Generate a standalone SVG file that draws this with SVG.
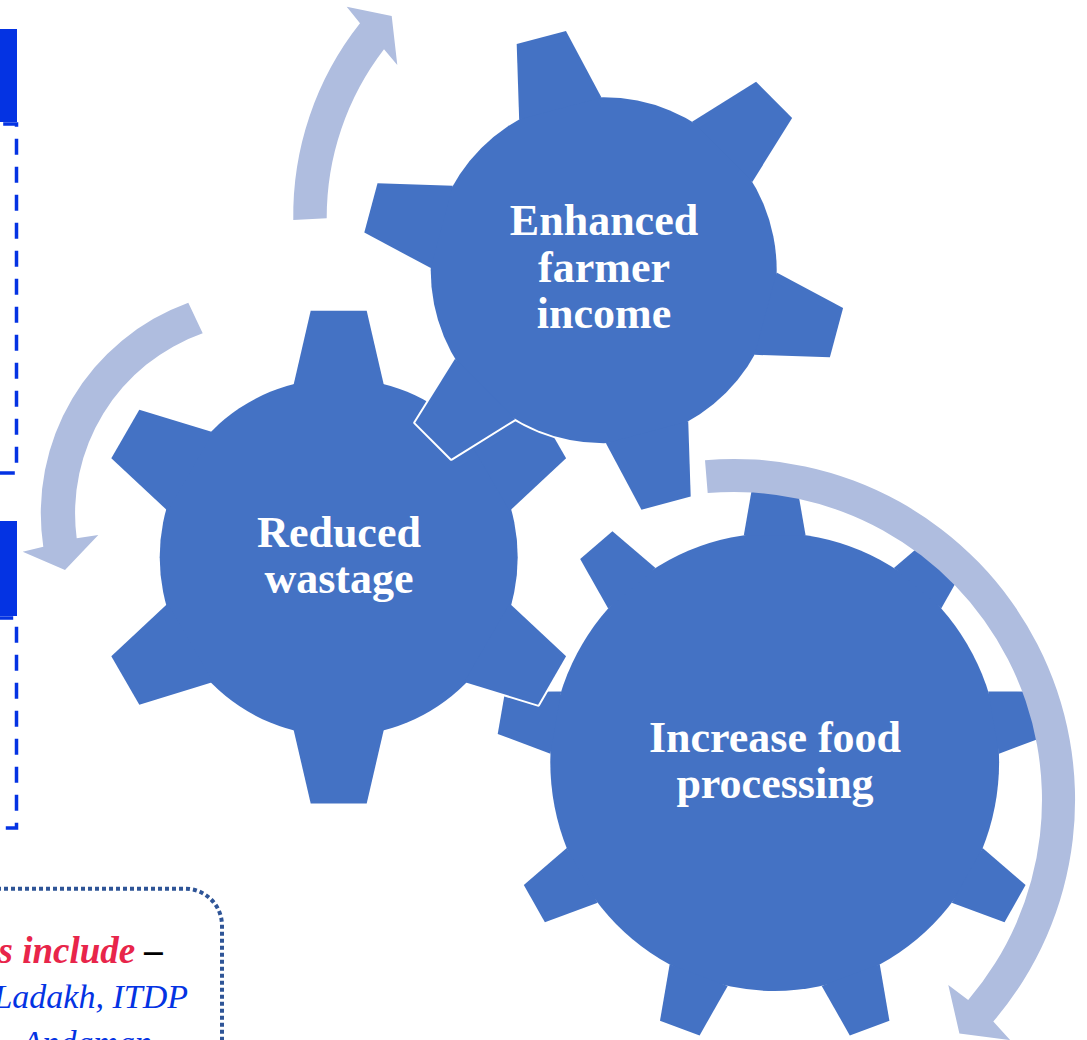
<svg xmlns="http://www.w3.org/2000/svg" xmlns:xlink="http://www.w3.org/1999/xlink" width="1087" height="1040" viewBox="0 0 1087 1040">
<defs>
<style>
.gear-bg{fill:#ffffff;stroke:#ffffff;stroke-width:4;stroke-linejoin:round}
.gear-fg{fill:#4472C4}
.lbl{font-family:"Liberation Serif","DejaVu Serif",serif;font-weight:bold;font-size:44px;fill:#ffffff;text-anchor:middle}
.arrow{fill:#AFBDDF}
.note{font-family:"Liberation Serif","DejaVu Serif",serif;font-style:italic;font-size:34px}
.note-head{font-size:37px;font-weight:bold}
</style>
<g id="gear6a">
<circle r="173"/>
<polygon points="-42.6,-167.6 -25.5,-241 25.5,-241 42.6,-167.6" transform="rotate(-15)"/>
<polygon points="-42.6,-167.6 -25.5,-241 25.5,-241 42.6,-167.6" transform="rotate(45)"/>
<polygon points="-42.6,-167.6 -25.5,-241 25.5,-241 42.6,-167.6" transform="rotate(105)"/>
<polygon points="-42.6,-167.6 -25.5,-241 25.5,-241 42.6,-167.6" transform="rotate(165)"/>
<polygon points="-42.6,-167.6 -25.5,-241 25.5,-241 42.6,-167.6" transform="rotate(225)"/>
<polygon points="-42.6,-167.6 -25.5,-241 25.5,-241 42.6,-167.6" transform="rotate(285)"/>
</g>
<g id="gear6b">
<circle r="179"/>
<polygon points="-45.4,-171.2 -28,-246.4 28,-246.4 45.4,-171.2"/>
<polygon points="-45.4,-171.2 -28,-246.4 28,-246.4 45.4,-171.2" transform="rotate(60)"/>
<polygon points="-45.4,-171.2 -28,-246.4 28,-246.4 45.4,-171.2" transform="rotate(120)"/>
<polygon points="-45.4,-171.2 -28,-246.4 28,-246.4 45.4,-171.2" transform="rotate(180)"/>
<polygon points="-45.4,-171.2 -28,-246.4 28,-246.4 45.4,-171.2" transform="rotate(240)"/>
<polygon points="-45.4,-171.2 -28,-246.4 28,-246.4 45.4,-171.2" transform="rotate(300)"/>
</g>
<g id="gear9">
<circle r="229"/>
<polygon points="-31.5,-226.8 -21.5,-283.2 21.5,-283.2 31.5,-226.8"/>
<polygon points="-31.5,-226.8 -21.5,-283.2 21.5,-283.2 31.5,-226.8" transform="rotate(40)"/>
<polygon points="-31.5,-226.8 -21.5,-283.2 21.5,-283.2 31.5,-226.8" transform="rotate(80)"/>
<polygon points="-31.5,-226.8 -21.5,-283.2 21.5,-283.2 31.5,-226.8" transform="rotate(120)"/>
<polygon points="-31.5,-226.8 -21.5,-283.2 21.5,-283.2 31.5,-226.8" transform="rotate(160)"/>
<polygon points="-31.5,-226.8 -21.5,-283.2 21.5,-283.2 31.5,-226.8" transform="rotate(200)"/>
<polygon points="-31.5,-226.8 -21.5,-283.2 21.5,-283.2 31.5,-226.8" transform="rotate(240)"/>
<polygon points="-31.5,-226.8 -21.5,-283.2 21.5,-283.2 31.5,-226.8" transform="rotate(280)"/>
<polygon points="-31.5,-226.8 -21.5,-283.2 21.5,-283.2 31.5,-226.8" transform="rotate(320)"/>
</g>
</defs>

<g id="left-panels">
<rect x="0" y="29" width="17" height="93" fill="#0433E3"/>
<path d="M-10,124 H16.5 V473 H-10" fill="none" stroke="#0433E3" stroke-width="3.5" stroke-dasharray="16 12" stroke-dashoffset="14.8"/>
<rect x="0" y="521" width="17" height="95" fill="#0433E3"/>
<path d="M-10,618 H16.5 V828 H-10" fill="none" stroke="#0433E3" stroke-width="3.5" stroke-dasharray="16 12" stroke-dashoffset="20.8"/>
</g>

<g id="note-box">
<path d="M-10,888.7 H185 A37,37 0 0 1 222,925.7 V1060" fill="none" stroke="#2F5597" stroke-width="4" stroke-dasharray="4 3"/>
<text class="note note-head" x="163" y="962.7" text-anchor="end"><tspan fill="#E8254A">s include</tspan><tspan fill="#000000"> –</tspan></text>
<text class="note" x="188" y="1008.3" text-anchor="end" fill="#0433E3">Ladakh, ITDP</text>
<text class="note" x="21.7" y="1054" fill="#0433E3">Andaman</text>
</g>

<g id="node-increase-food-processing">
<use xlink:href="#gear9" class="gear-bg" transform="translate(774.7,762) scale(0.98,1)"/>
<use xlink:href="#gear9" class="gear-fg" transform="translate(774.7,762) scale(0.98,1)"/>
<text class="lbl" x="775" y="752">Increase food</text>
<text class="lbl" x="775" y="798">processing</text>
</g>

<g id="node-reduced-wastage">
<use xlink:href="#gear6b" class="gear-bg" transform="translate(338.7,557.2)"/>
<use xlink:href="#gear6b" class="gear-fg" transform="translate(338.7,557.2)"/>
<text class="lbl" x="339" y="546.7">Reduced</text>
<text class="lbl" x="339" y="593.3">wastage</text>
</g>

<g id="node-enhanced-farmer-income">
<use xlink:href="#gear6a" class="gear-bg" transform="translate(603.7,270.3)"/>
<use xlink:href="#gear6a" class="gear-fg" transform="translate(603.7,270.3)"/>
<text class="lbl" x="604" y="235">Enhanced</text>
<text class="lbl" x="604" y="282">farmer</text>
<text class="lbl" x="604" y="328">income</text>
</g>

<g id="connectors">
<path class="arrow" d="M293.3,220 A309,309 0 0 1 360,23.3 L346.7,6.7 L391.7,16 L397.3,65 L384,49.3 A276,276 0 0 0 326.7,218.3 Z"/>
<path class="arrow" d="M188.3,302.7 A224,224 0 0 0 43.3,546.7 L22.7,551.7 L65,570 L98.3,535 L76.7,538.3 A191,191 0 0 1 202.7,333.3 Z"/>
<path class="arrow" d="M705,460.2 A341,341 0 0 1 993.3,1021.5 L1010.2,1040.1 L959.4,1033.4 L948.3,984.9 L968.2,1000 A308,308 0 0 0 707.7,493.1 Z"/>
</g>
</svg>
